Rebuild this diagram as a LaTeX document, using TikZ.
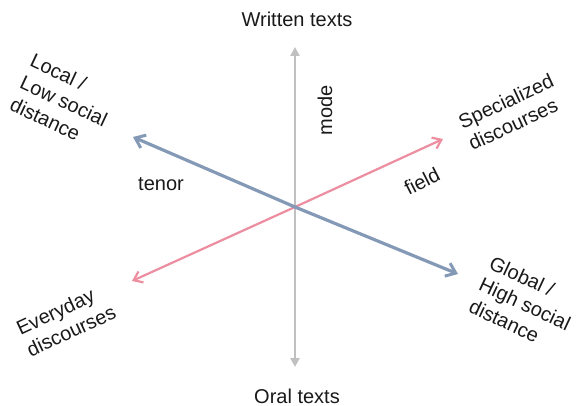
\documentclass[tikz,border=0pt]{standalone}
\usepackage{fontspec}
\setmainfont{Liberation Sans}
\usetikzlibrary{arrows.meta}

\definecolor{axisgray}{RGB}{192,192,192}
\definecolor{tenorblue}{RGB}{132,153,182}
\definecolor{fieldpink}{RGB}{236,142,160}

\tikzset{
  lbl/.style={font=\fontsize{20}{24}\selectfont, text=black!90, inner sep=0pt},
  blk/.style={lbl, align=left},
  modeaxis/.style={draw=axisgray, line width=2.6pt, -{Triangle[length=9pt,width=9pt]}},
  tenoraxis/.style={draw=tenorblue, line width=3.2pt, -{Straight Barb[length=9pt,width=14pt,line width=3pt]}},
  fieldaxis/.style={draw=fieldpink, line width=2.2pt, -{Straight Barb[length=8pt,width=12pt,line width=2.2pt]}},
}

\begin{document}
\begin{tikzpicture}[x=1pt,y=-1pt]
  \useasboundingbox (0,0) rectangle (580,406);

  % axis end points and crossing point
  \coordinate (c)  at (295,207);
  \coordinate (wt) at (295,47);
  \coordinate (ot) at (295,367);
  \coordinate (lo) at (133,137);
  \coordinate (gl) at (458,274);
  \coordinate (sp) at (443,139);
  \coordinate (ev) at (132,281);

  % axes
  \draw[modeaxis]  (c) -- (wt);
  \draw[modeaxis]  (c) -- (ot);
  \draw[fieldaxis] (c) -- (sp);
  \draw[fieldaxis] (c) -- (ev);
  \draw[tenoraxis] (c) -- (lo);
  \draw[tenoraxis] (c) -- (gl);

  % end labels
  \node[lbl, anchor=base] (written) at (297,27) {Written texts};
  \node[lbl, anchor=base] (oral) at (297,403) {Oral texts};
  \node[blk, rotate=-25] (local) at (64,101) {Local /\\Low social\\distance};
  \node[blk, rotate=-25] (global) at (525,304) {Global /\\High social\\distance};
  \node[blk, rotate=25] (special) at (511,112) {Specialized\\discourses};
  \node[blk, rotate=25] (everyday) at (66,320) {Everyday\\discourses};

  % axis names
  \node[lbl, anchor=base] (tenor) at (161,190) {tenor};
  \node[lbl, anchor=base, rotate=90] (mode) at (332,110) {mode};
  \node[lbl, rotate=27] (field) at (422,181) {field};
\end{tikzpicture}
\end{document}
